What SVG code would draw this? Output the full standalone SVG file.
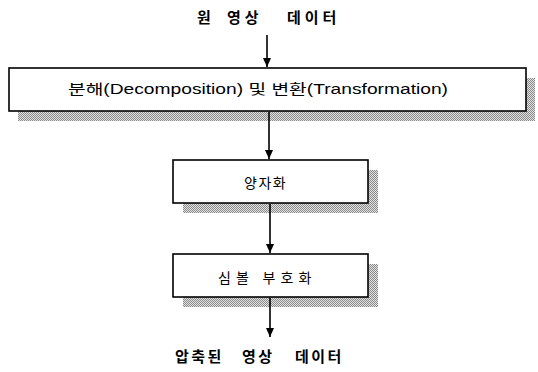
<svg xmlns="http://www.w3.org/2000/svg" width="538" height="372" viewBox="0 0 538 372">
<style>
.box{fill:#fff;stroke:#000;stroke-width:1.6}
.shadow{fill:url(#dots)}
.title{font-family:"Noto Sans CJK KR","Liberation Sans",sans-serif;font-weight:bold;font-size:15px;fill:#000}
.lbl{font-family:"Liberation Sans","Noto Sans CJK KR",sans-serif;font-size:14px;fill:#000}
.klbl{font-family:"Noto Sans CJK KR",sans-serif;font-size:14px;fill:#000;letter-spacing:1.5px}
.conn{stroke:#000;stroke-width:1.6;fill:none}
</style>
<defs>
<pattern id="dots" width="2" height="2" patternUnits="userSpaceOnUse">
<rect width="2" height="2" fill="#e2e2e2"/>
<rect width="1" height="1" fill="#8a8a8a"/>
<rect x="1" y="1" width="1" height="1" fill="#8a8a8a"/>
</pattern>
<marker id="arr" markerWidth="10" markerHeight="10" refX="9" refY="4" orient="auto" markerUnits="userSpaceOnUse">
<path d="M0,0 L9,4 L0,8 Z" fill="#000"/>
</marker>
</defs>
<g id="title-top">
<text class="title" x="197" y="23" style="letter-spacing:4px">원</text>
<text class="title" x="227" y="23" style="letter-spacing:4px">영상</text>
<text class="title" x="287" y="23" style="letter-spacing:4px">데이터</text>
</g>
<g id="node-decomp">
<rect class="shadow" x="18" y="78" width="517" height="43"/>
<rect class="box" x="9" y="68" width="517" height="43"/>
<text class="lbl" x="68" y="94" textLength="380" lengthAdjust="spacingAndGlyphs">분해(Decomposition) 및 변환(Transformation)</text>
</g>
<g id="node-quant">
<rect class="shadow" x="183" y="170" width="195" height="43"/>
<rect class="box" x="173" y="160" width="195" height="43"/>
<text class="klbl" x="244" y="188">양자화</text>
</g>
<g id="node-symbol">
<rect class="shadow" x="183" y="264" width="195" height="43"/>
<rect class="box" x="173" y="254" width="195" height="43"/>
<text class="klbl" x="218" y="283" textLength="95" lengthAdjust="spacing">심볼 부호화</text>
</g>
<g id="title-bottom">
<text class="title" x="175" y="362" style="letter-spacing:2.5px">압축된</text>
<text class="title" x="242" y="362" style="letter-spacing:2.5px">영상</text>
<text class="title" x="295" y="362" style="letter-spacing:2.5px">데이터</text>
</g>
<g id="connectors">
<line class="conn" x1="267" y1="35" x2="267" y2="67" marker-end="url(#arr)"/>
<line class="conn" x1="269" y1="112" x2="269" y2="159" marker-end="url(#arr)"/>
<line class="conn" x1="270" y1="204" x2="270" y2="253" marker-end="url(#arr)"/>
<line class="conn" x1="270" y1="298" x2="270" y2="337" marker-end="url(#arr)"/>
</g>
</svg>
